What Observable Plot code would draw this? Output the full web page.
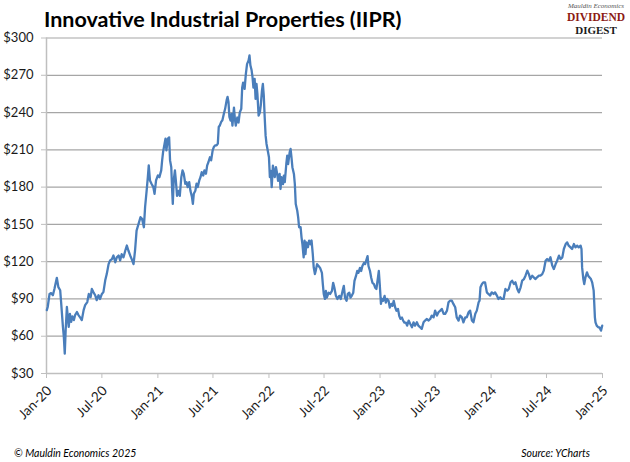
<!DOCTYPE html>
<html>
<head>
<meta charset="utf-8">
<script src="https://cdn.jsdelivr.net/npm/d3@7"></script>
<script src="https://cdn.jsdelivr.net/npm/@observablehq/plot@0.6"></script>
<style>
  html, body { margin: 0; padding: 0; background: #fff; }
  #wrap { position: relative; width: 630px; height: 462px; overflow: hidden; background: #fff; }
  #chart { position: absolute; left: 0; top: 0; }
  .title { position: absolute; left: 44px; top: 6px; font-family: Lato, sans-serif; font-weight: 700; font-size: 21.5px; color: #000; white-space: nowrap; }
  #logo { position: absolute; left: 540px; top: 0px; font-family: "Liberation Serif", serif; }
  .foot { position: absolute; top: 447px; font-family: Lato, sans-serif; font-style: italic; font-size: 10.5px; color: #000; }
</style>
</head>
<body>
<div id="wrap">
  <div id="chart"></div>
  <div class="title">Innovative Industrial Properties (IIPR)</div>
  <svg id="logo" width="90" height="42" viewBox="0 0 90 42">
    <text x="56" y="8" text-anchor="middle" font-style="italic" font-size="7" fill="#555">Mauldin Economics</text>
    <text x="56" y="21" text-anchor="middle" font-weight="700" font-size="11.5" fill="#8c1a13">DIVIDEND</text>
    <text x="56" y="33.5" text-anchor="middle" font-weight="700" font-size="11" fill="#1a1a1a">DIGEST</text>
  </svg>
  <div class="foot" style="left:14px">© Mauldin Economics 2025</div>
  <div class="foot" style="right:40px">Source: YCharts</div>
</div>
<script>
// Days elapsed since 2020-01-01 for each observation
const dayOffsets = [
  1,4,10,15,21,26,34,39,45,48,54,57,60,63,67,70,73,77,81,85,90,94,100,105,111,116,122,127,134,139,145,149,154,160,165,171,176,182,187,193,198,204,209,215,220,226,231,237,242,247,253,259,264,269,275,280,286,291,296,
  309,314,320,324,329,333,336,340,345,351,355,360,366,371,377,380,383,388,391,394,399,403,406,410,413,415,418,422,425,429,434,438,443,447,451,456,460,464,469,473,478,481,484,489,493,497,502,506,510,515,519,524,528,532,537,541,546,550,554,559,563,566,570,574,578,583,587,592,595,598,601,
  605,608,611,616,619,622,627,631,635,640,643,646,651,655,659,664,667,670,674,677,680,684,687,690,693,697,701,704,708,711,714,717,720,723,727,731,734,737,740,744,747,750,754,758,761,766,769,772,777,780,783,788,791,794,799,802,805,808,813,816,819,824,827,830,835,838,841,845,848,851,854,859,863,868,871,875,878,882,885,889,
  894,899,905,908,911,915,918,921,927,932,938,942,946,951,956,962,967,973,977,981,986,990,995,999,1003,1008,1012,1017,1021,1025,1030,1034,1038,1043,1047,1052,1055,1058,1063,1067,1071,1076,1080,1084,1089,1092,1095,1099,1102,1106,1111,1115,1119,1124,1128,1133,1137,1141,1146,1150,1155,1159,1163,1168,1172,1176,1181,1185,
  1190,1195,1201,1206,1211,1217,1222,1228,1233,1239,1244,1250,1255,1261,1266,1272,1277,1283,1288,1294,1299,1305,1310,1316,1321,1326,1332,1337,1343,1348,1354,1359,1365,1370,1376,1381,1387,1392,1398,1403,1409,1414,1420,1423,1426,1431,1436,1441,1447,1452,1458,1463,1469,1474,1480,1485,1491,1496,1502,
  1508,1514,1519,1525,1530,1536,1541,1547,1552,1558,1563,1569,1574,1580,1585,1590,1596,1601,1607,1612,1618,1623,1629,1634,1640,1645,1651,1656,1662,1667,1673,1678,1684,1689,1695,1700,1706,1711,1716,1722,1727,1733,1738,1744,1749,1755,1758,1760,1764,1767,1771,1776,1780,1784,1789,1793,1798,1800,1802,1804,1808,1813,1817,1822,1826
];
// IIPR share price (USD)
const prices = [
  81,83.5,94,94.7,93,98,107,99.5,97,87.5,67.5,59.5,46,65,83.5,75.5,67.5,78,71.5,76,73,77,79.5,77,75,73,81,85,87.5,94,91.5,98,95.5,93,89,93,90,94,95.5,105,110,118,121,122,125,119.5,123.5,125,121,126,123.5,129,133,129,125,122,118,129,145,
  155.8,154.5,147.7,164,177,188,197.5,185.4,182.7,180,174.6,185.4,189.4,188,193.5,201.5,208,215,219,209.6,219,220,201.5,196,177,166.5,185.4,193.5,185.4,173,177,173,188,193.5,190.8,182.7,184,180,184,177,172,166.5,174.6,177,182.7,180,185.4,188,192,189.4,193.5,190.8,197.5,200,204,201.5,209.6,212.3,213.6,213.6,215,228.4,229.8,232.5,233.8,239.2,243,250,252.6,248.6,236.5,
  233.5,239,229.5,244,235,229.5,236,232,240,243,260,264,259,271,279,282,286,278,274,268.5,260,267,251,263,255,237.5,240,245.6,257.7,263,253.6,236,221.4,214.7,209.4,204,188,193,180,197.3,193,188,196,190.6,185,190.6,178.5,188,182.5,189.2,184,198.6,205.3,198.6,208,210.7,204,196,190.6,182.5,166.4,161,155.7,147.7,147.7,139.6,134,123.5,137,126,135.6,131.6,137,134,137,126,115.5,110,113,118,
  116.5,115,111,102,94,90,96.5,91,95,94,96.5,103,99,92.5,90,92.5,90,96.5,100.5,91,88.5,94,95,91,92.5,95,104.5,108.5,112.5,111,115,112.5,116.5,119,118,122,124.5,116.5,112.5,107,103,102,99,98,107,112.5,102,86,90,88.5,92.5,87,90,88.5,83,86,84.5,88.5,83,80.5,82,76.5,74,75,72.5,71,71,68.5,
  72.6,70,67.2,71.2,68.5,71.2,68.5,67.2,65.9,71.2,72.6,73.9,72.6,73.9,76.6,75.2,80.6,76.6,79.3,80.6,82,78,78,80.6,87.3,88.6,88.6,86,83.3,75.2,72.6,76.6,75.2,71.2,75.2,75.2,79.3,80.6,72.6,71.2,78,80.6,87.3,88.6,99.4,102,103.4,103.4,95.3,94,92.7,95.3,94,95.3,92.7,90,91.3,90,90,
  98,96.7,98,103.4,104.7,102,103.4,98,95.3,99.4,104.7,106,108.7,112.8,110,106,108.7,107.4,106,107.4,108.7,108.7,110,112.8,120.8,122.1,120.8,123.5,116.8,114.1,118.1,120.8,124.8,122.1,123.5,130.2,134.2,135.5,132.9,131.5,130.2,134.2,131.5,132.9,131.5,132.9,130.2,115.4,106,102,107.4,111.4,108.7,107.4,106,103.4,96.7,86,75.2,71.2,68.5,67.2,67.2,64.5,68.5
];
const yTicks = [30, 60, 90, 120, 150, 180, 210, 240, 270, 300];
const xTickDates = ["2020-01-01","2020-07-01","2021-01-01","2021-07-01","2022-01-01","2022-07-01","2023-01-01","2023-07-01","2024-01-01","2024-07-01","2025-01-01"];
const xTickLabels = ["Jan-20","Jul-20","Jan-21","Jul-21","Jan-22","Jul-22","Jan-23","Jul-23","Jan-24","Jul-24","Jan-25"];

const start = new Date(Date.UTC(2020, 0, 1));
const data = dayOffsets.map((d, i) => ({date: d3.utcDay.offset(start, d), price: prices[i]}));
const xTicks = xTickDates.map(s => new Date(s + "T00:00:00Z"));
const labelOf = new Map(xTicks.map((d, i) => [+d, xTickLabels[i]]));

const chart = Plot.plot({
  width: 630,
  height: 462,
  marginTop: 37.5,
  marginBottom: 89,
  marginLeft: 46,
  marginRight: 28,
  style: {fontFamily: "Lato, sans-serif", fontSize: "13px", background: "transparent", overflow: "visible"},
  x: {type: "utc", domain: [xTicks[0], xTicks[xTicks.length - 1]]},
  y: {domain: [30, 300]},
  marks: [
    Plot.gridY(yTicks, {stroke: "#a6a6a6", strokeOpacity: 1, strokeWidth: 1.2}),
    Plot.ruleY([30], {stroke: "#bfbfbf", strokeWidth: 1.5}),
    Plot.ruleX([xTicks[0]], {stroke: "#bfbfbf", strokeWidth: 1.5}),
    Plot.axisY(yTicks, {tickSize: 5, tickPadding: 8, stroke: "#bfbfbf", fill: "#1a1a1a", tickFormat: d => "$" + d, label: null}),
    Plot.axisX(xTicks, {tickSize: 5, tickPadding: 0, stroke: "#bfbfbf", label: null, text: null}),
    Plot.axisX(xTicks, {tickSize: 0, tickPadding: 9, tickRotate: -45, dy: 6, dx: 3, fill: "#1a1a1a", fontSize: 13.5, tickFormat: d => labelOf.get(+d), label: null}),
    Plot.line(data, {x: "date", y: "price", stroke: "#4a7ebb", strokeWidth: 2.3, strokeLinejoin: "round"})
  ]
});
document.getElementById("chart").appendChild(chart);
</script>
</body>
</html>
